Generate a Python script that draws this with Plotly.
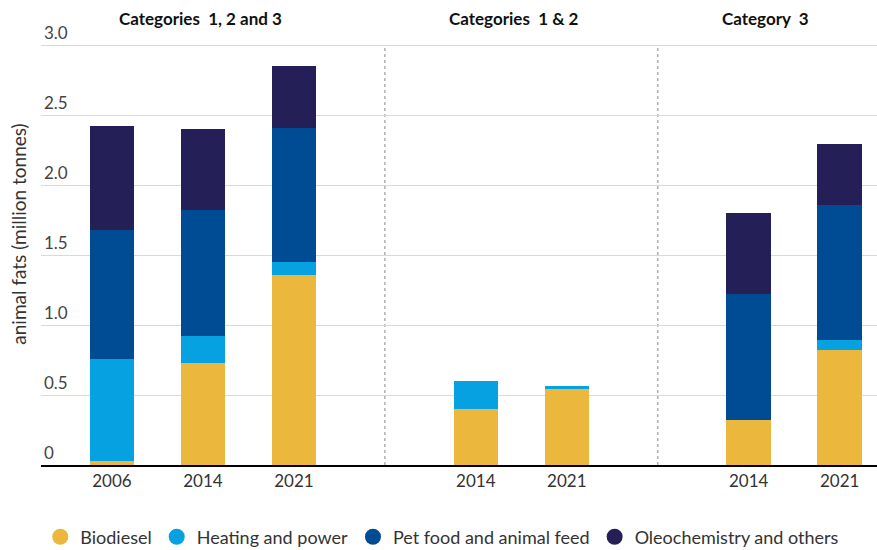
import plotly.graph_objects as go

# ---- data ----
groups = ["Categories  1, 2 and 3", "Categories  1 & 2", "Category  3"]
group_of_bar = [0, 0, 0, 1, 1, 2, 2]
years = ["2006", "2014", "2021", "2014", "2021", "2014", "2021"]
biodiesel = [0.03, 0.73, 1.36, 0.40, 0.54, 0.32, 0.82]
heating = [0.73, 0.19, 0.09, 0.20, 0.025, 0.0, 0.07]
petfood = [0.92, 0.90, 0.96, 0.0, 0.0, 0.90, 0.97]
oleo = [0.74, 0.58, 0.44, 0.0, 0.0, 0.58, 0.43]
series_names = ["Biodiesel", "Heating and power", "Pet food and animal feed", "Oleochemistry and others"]
colors = ["#EBB73C", "#06A1E1", "#004C94", "#242057"]
ytick_vals = [0, 0.5, 1, 1.5, 2, 2.5, 3]
ytick_text = ["0", "0.5", "1.0", "1.5", "2.0", "2.5", "3.0"]

# bar positions: one empty slot between groups
xpos = [i + g for i, g in enumerate(group_of_bar)]
dividers = [3, 6]
YMAX = 3.0

FONT = "Lato"
fig = go.Figure()
for name, vals, col in zip(series_names, [biodiesel, heating, petfood, oleo], colors):
    fig.add_trace(go.Bar(x=xpos, y=vals, name=name, marker=dict(color=col, line=dict(width=0)),
                         width=0.49, showlegend=False))
for name, col in zip(series_names, colors):
    fig.add_trace(go.Scatter(x=[None], y=[None], mode="markers", name=name,
                             marker=dict(color=col, size=16, symbol="circle")))

for d in dividers:
    fig.add_shape(type="line", x0=d, x1=d, y0=0, y1=YMAX, xref="x", yref="y",
                  line=dict(color="#b0b0b0", width=1.5, dash="dot"), layer="below")

title_x = [0.97, 4.42, 7.18]
for g, tx in zip(groups, title_x):
    fig.add_annotation(x=tx, y=YMAX, xref="x", yref="y", yshift=27, text="<b>" + g + "</b>",
                       showarrow=False, font=dict(family=FONT, size=17, color="#111"),
                       xanchor="center", yanchor="middle")

fig.update_layout(
    width=877, height=550,
    margin=dict(l=41, r=0, t=3, b=85, autoexpand=False),
    barmode="stack", plot_bgcolor="white", paper_bgcolor="white",
    font=dict(family=FONT, size=17, color="#333"),
    xaxis=dict(range=[-0.78, 8.41], tickvals=xpos, ticktext=years, showgrid=False,
               showline=True, linecolor="black", linewidth=2, ticks="", zeroline=False,
               tickangle=0, automargin=False,
               tickfont=dict(size=17, color="#333")),
    yaxis=dict(range=[0, 3.3], tickvals=ytick_vals, ticktext=ytick_text,
               showgrid=True, gridcolor="#d9d9d9", gridwidth=1, zeroline=False,
               ticklabelposition="inside top", automargin=False,
               tickfont=dict(size=17, color="#444"),
               title=dict(text="animal fats (million tonnes)", standoff=12,
                          font=dict(size=19, color="#333"))),
    legend=dict(orientation="h", x=0.48, xanchor="center", traceorder="normal",
                y=-0.156, yanchor="middle", font=dict(size=18, color="#333")),
)
fig.write_html("out.html", config={"displayModeBar": False},
               post_script="document.body.style.margin='0';")
